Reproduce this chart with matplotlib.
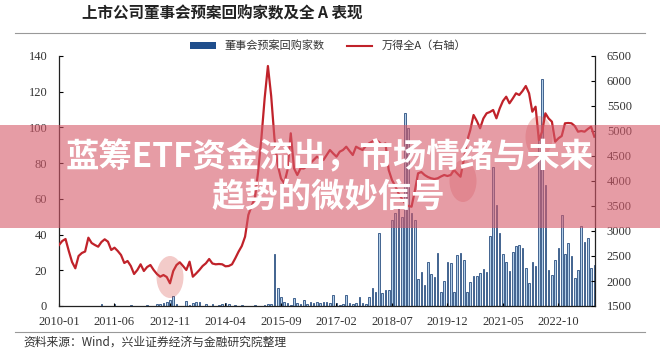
import matplotlib
matplotlib.use('Agg')
import numpy as np
import matplotlib.pyplot as plt
from matplotlib.patches import Rectangle, Ellipse, Patch
from matplotlib.lines import Line2D

plt.rcParams['font.family'] = ['Liberation Serif', 'Noto Sans CJK SC', 'DejaVu Sans']
cjk = ['Noto Sans CJK SC', 'DejaVu Sans']

# monthly, 2010-01 .. 2023-09
months = [f'{2010 + k // 12}-{k % 12 + 1:02d}' for k in range(165)]
tick_labels = ['2010-01', '2011-06', '2012-11', '2014-04', '2015-09',
               '2017-02', '2018-07', '2019-12', '2021-05', '2022-10']

# 董事会预案回购家数 (left axis)
buyback = [0, 0, 0, 0, 0, 0, 0, 0, 0, 0, 0, 0,
           0, 1.0, 0, 0, 0, 1.2, 0, 0, 0, 0, 0.5, 0,
           0, 0, 0, 0.8, 0, 0, 1.0, 1.2, 1.5, 2.5, 3.4, 5.8,
           1.0, 0, 0, 2.8, 0.8, 1.5, 2.4, 2.0, 0, 1.0, 0, 1.2,
           0, 0.8, 1.0, 1.5, 1.0, 0, 0.8, 0, 0.5, 0, 0, 0,
           0.5, 0, 0, 0.8, 1.0, 1.2, 29, 9.9, 5.2, 2.4, 1.5, 0.8,
           4.3, 1.5, 1.2, 3.4, 1.0, 2.0, 1.8, 2.0, 1.5, 2.0, 2.2, 1.5,
           6.2, 1.5, 0.8, 1.0, 6.2, 1.5, 1.2, 1.5, 5.0, 1.5, 1.2, 5.2,
           9.9, 8, 41, 7.1, 9, 9, 48, 52, 55, 50, 108, 99.5,
           52, 48, 15, 19.2, 11.8, 24.8, 17.9, 16, 29.9, 8, 14.2, 24.8,
           23.9, 8, 28.6, 29.9, 25.8, 8, 13.6, 16.8, 16.8, 18.7, 20.7, 19,
           39.2, 78, 56.6, 40.7, 28.9, 24.8, 19.6, 30, 33.8, 34.2, 32.7, 21.1,
           12.7, 24.8, 22.6, 95, 127, 67.8, 20.2, 17.4, 25.8, 32.3, 51, 28.9,
           35.1, 28.2, 15.9, 20.2, 45, 36, 37.9, 21.1, 23]

# 万得全A (right axis)
wind_a = [2720, 2800, 2840, 2600, 2380, 2254, 2500, 2560, 2590, 2866, 2760, 2720,
          2686, 2780, 2834, 2786, 2620, 2666, 2600, 2520, 2360, 2400, 2300, 2140,
          2220, 2334, 2200, 2280, 2320, 2220, 2140, 2086, 2120, 2080, 1954, 2200,
          2320, 2374, 2300, 2220, 2386, 2086, 2150, 2220, 2300, 2354, 2440, 2350,
          2334, 2340, 2334, 2294, 2300, 2334, 2454, 2586, 2700, 2886, 3320, 3500,
          3654, 4186, 4854, 5654, 6300, 5700, 4854, 4320, 4050, 3954, 4220, 4954,
          4254, 4120, 4254, 4250, 4300, 4354, 4420, 4486, 4450, 4420, 4520, 4620,
          4550, 4486, 4586, 4620, 4686, 4600, 4520, 4686, 4650, 4620, 4700, 4754,
          4790, 4820, 4780, 4720, 4754, 4220, 4020, 3900, 3754, 3650, 3554, 3500,
          3486, 3800, 4154, 4180, 4120, 4080, 4054, 4040, 4054, 4090, 4120, 4100,
          4120, 4220, 4150, 4086, 4420, 4800, 5020, 5320, 5200, 5054, 5250, 5354,
          5380, 5420, 5254, 5450, 5600, 5686, 5554, 5650, 5754, 5720, 5800, 5900,
          5754, 5386, 5486, 4820, 4986, 5354, 5250, 5186, 4786, 4854, 4900, 5154,
          5160, 5154, 5100, 4986, 5000, 4986, 5040, 5086, 4886]

W, H = 660, 355
fig = plt.figure(figsize=(W / 100, H / 100), dpi=100)
fig.patch.set_facecolor('white')

ax = fig.add_axes([59 / W, 1 - 306 / H, (595 - 59) / W, (306 - 56) / H])
x = np.arange(len(months))
ax.bar(x, buyback, width=0.5, color='#b3cfe9', edgecolor='#2a4f80', linewidth=0.6)
ax.set_xlim(0, 164.2)
ax.set_ylim(0, 140)
ax.set_yticks(range(0, 141, 20))
ax.set_xticks([months.index(t) for t in tick_labels])
ax.set_xticklabels(tick_labels)

ax2 = ax.twinx()
ax2.plot(x, wind_a, color='#c0222a', lw=1.6)
ax2.set_ylim(1500, 6500)
ax2.set_yticks(range(1500, 6501, 500))

for s in ['top', 'right']:
    ax.spines[s].set_visible(False)
for s in ['top', 'left', 'bottom']:
    ax2.spines[s].set_visible(False)
for a in (ax, ax2):
    for sp in a.spines.values():
        sp.set_color('#222222')
        sp.set_linewidth(0.9)
ax.tick_params(axis='y', direction='in', length=3, pad=8.5, labelsize=9, labelcolor='#333333')
ax.tick_params(axis='x', direction='in', length=2, pad=7, labelsize=9, labelcolor='#333333')
ax2.tick_params(axis='y', direction='in', length=3, pad=8.5, labelsize=9, labelcolor='#333333')

# title, rules, legend, source
fig.text(82 / W, 1 - 13 / H, '上市公司董事会预案回购家数及全 A 表现', ha='left', va='center',
         fontsize=11.2, fontweight='bold', color='#222222', family=cjk)
fig.add_artist(Line2D([15 / W, 645 / W], [1 - 33 / H] * 2, transform=fig.transFigure,
                      color='#999999', lw=0.8))
fig.add_artist(Line2D([15 / W, 645 / W], [1 - 332 / H] * 2, transform=fig.transFigure,
                      color='#999999', lw=0.8))
handles = [Patch(facecolor='#1f4e8c', edgecolor='none', label='董事会预案回购家数'),
           Line2D([], [], color='#c0222a', lw=1.5, label='万得全A（右轴）')]
fig.legend(handles=handles, loc='center', bbox_to_anchor=(328 / W, 1 - 46 / H), ncol=2,
           frameon=False, prop={'family': cjk, 'size': 8}, handlelength=2.3,
           handleheight=0.6, columnspacing=2.0, labelcolor='#333333')
fig.text(23 / W, 1 - 342 / H, '资料来源：Wind，兴业证券经济与金融研究院整理', ha='left',
         va='center', fontsize=8.5, color='#333333', family=cjk)

# highlight circles
for cx, cy in [(170, 277), (463, 181), (539, 137)]:
    fig.add_artist(Ellipse((cx / W, 1 - cy / H), 27 / W, 42 / H, transform=fig.transFigure,
                           facecolor='#d9534f', edgecolor='none', alpha=0.3, zorder=8))

# overlay banner
fig.add_artist(Rectangle((0, 1 - 228 / H), 1, 103 / H, transform=fig.transFigure,
                         facecolor='#d65a6a', edgecolor='none', alpha=0.6, zorder=10))
fig.text(330 / W, 1 - 158 / H, '蓝筹ETF资金流出，市场情绪与未来', ha='center', va='center',
         fontsize=24, fontweight='bold', color='white', family=cjk, zorder=11)
fig.text(328 / W, 1 - 197 / H, '趋势的微妙信号', ha='center', va='center',
         fontsize=24, fontweight='bold', color='white', family=cjk, zorder=11)

fig.savefig('out.png', dpi=100)
